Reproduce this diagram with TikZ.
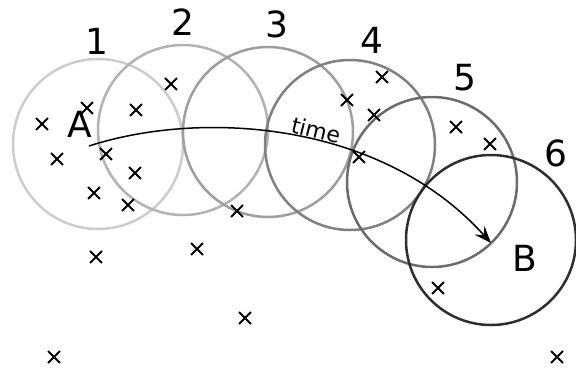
\documentclass[tikz,border=0pt]{standalone}
\usepackage{fontspec}
\setmainfont{DejaVu Sans}
\usetikzlibrary{arrows.meta, shapes.misc}

\begin{document}
\begin{tikzpicture}[
    x=1pt, y=-1pt,
    every node/.style={font=\fontsize{36}{40}\selectfont},
    zone/.style={circle, draw, line width=2.5pt, minimum size=170pt, inner sep=0pt},
    sample/.style={cross out, draw, line width=1.8pt, minimum size=10pt, inner sep=0pt}
]
\useasboundingbox (0,0) rectangle (576,368);

% neighbourhoods, light to dark
\node[zone, draw=black!20] (c1) at (98,144) {};
\node[zone, draw=black!30] (c2) at (183,130) {};
\node[zone, draw=black!38] (c3) at (268,132) {};
\node[zone, draw=black!50] (c4) at (350,145) {};
\node[zone, draw=black!58] (c5) at (432,182) {};
\node[zone, draw=black!82] (c6) at (491,240) {};

\node (l1) at (97,41) {1};
\node (l2) at (183,22) {2};
\node (l3) at (277,24) {3};
\node (l4) at (372,40) {4};
\node (l5) at (465,78) {5};
\node (l6) at (556,153) {6};

% samples
\foreach \x/\y [count=\i] in {42/124, 87/108, 57/159, 136/110, 171/84, 106/154, 135/173,
    94/193, 128/205, 237/211, 96/257, 197/249, 245/318, 54/357,
    382/77, 347/100, 374/115, 359/157, 456/127, 490/144, 438/288, 557/357}
    \node[sample] (s\i) at (\x,\y) {};

\node (A) at (80,124) {A};
\node (B) at (525,258) {B};

\coordinate (start) at (89,146);
\coordinate (stop) at (491,243);
\draw[line width=1.5pt, -{Stealth[length=17pt, width=13pt, inset=6pt]}] (start)
    .. controls (200,110) and (380,120) ..
    node[pos=0.555, sloped, above, inner sep=1pt, font=\fontsize{22}{26}\selectfont] (t) {time} (stop);
\end{tikzpicture}
\end{document}
